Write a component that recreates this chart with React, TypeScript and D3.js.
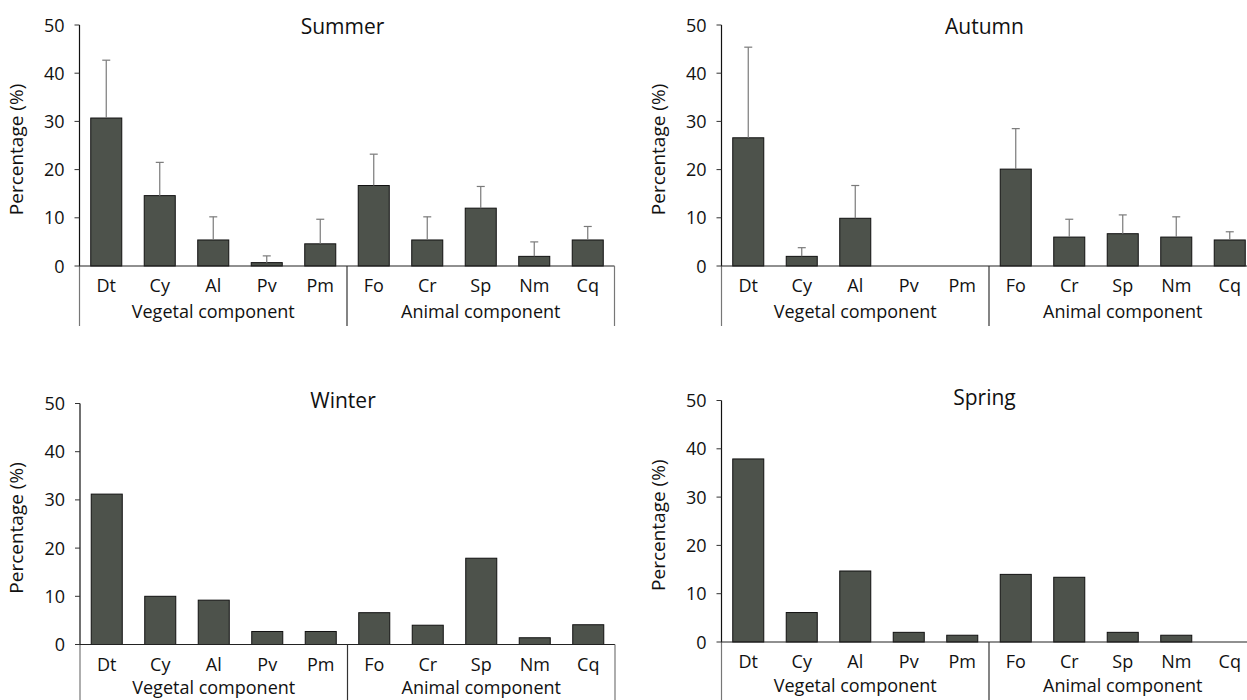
import React from "react";
import * as d3 from "d3";

const categories = ["Dt", "Cy", "Al", "Pv", "Pm", "Fo", "Cr", "Sp", "Nm", "Cq"];
const groupLabels = ["Vegetal component", "Animal component"];
const yTicks = [0, 10, 20, 30, 40, 50];

const summerValues = [30.7, 14.6, 5.4, 0.7, 4.6, 16.7, 5.4, 12.0, 2.0, 5.4];
const summerErrors = [42.7, 21.5, 10.2, 2.1, 9.7, 23.2, 10.2, 16.5, 5.0, 8.2];
const autumnValues = [26.6, 2.0, 9.9, 0, 0, 20.1, 6.0, 6.7, 6.0, 5.4];
const autumnErrors = [45.4, 3.8, 16.7, 0, 0, 28.5, 9.7, 10.6, 10.2, 7.1];
const winterValues = [31.2, 10.0, 9.2, 2.7, 2.7, 6.6, 4.0, 17.9, 1.4, 4.1];
const springValues = [37.9, 6.1, 14.7, 2.0, 1.4, 14.0, 13.4, 2.0, 1.4, 0];

type Panel = {
  title: string;
  values: number[];
  errors: number[] | null;
  axisX: number;
  yTop: number;
  yBottom: number;
  titleY: number;
  groupDy: number;
};

const panels: Panel[] = [
  { title: "Summer", values: summerValues, errors: summerErrors, axisX: 79.5, yTop: 25, yBottom: 266, titleY: 34, groupDy: 52 },
  { title: "Autumn", values: autumnValues, errors: autumnErrors, axisX: 721.5, yTop: 25, yBottom: 266, titleY: 34, groupDy: 52 },
  { title: "Winter", values: winterValues, errors: null, axisX: 80, yTop: 403.5, yBottom: 644.5, titleY: 408, groupDy: 49 },
  { title: "Spring", values: springValues, errors: null, axisX: 721.5, yTop: 400.5, yBottom: 642, titleY: 405, groupDy: 50 },
];

const FONT = "'Open Sans', sans-serif";
const PLOT_W = 535;
const BAR_FILL = "#4d524b";
const TXT = "#111";

function ChartPanel({ p }: { p: Panel }) {
  const x = d3.scaleBand<string>().domain(categories).range([p.axisX, p.axisX + PLOT_W]).paddingInner(0.42).paddingOuter(0.21);
  const y = d3.scaleLinear().domain([0, 50]).range([p.yBottom, p.yTop]);
  const y0 = y(0);
  const step = x.step();
  const sepX = p.axisX + step * 5;
  const endX = p.axisX + PLOT_W;
  const lineBottom = y0 + 60;
  return (
    <g>
      <text x={p.axisX + 263} y={p.titleY} textAnchor="middle" fontSize={21} fontFamily={FONT} fill={TXT}>{p.title}</text>
      <text transform={`translate(${p.axisX - 57},${(p.yTop + p.yBottom) / 2 + 4}) rotate(-90)`} textAnchor="middle" fontSize={19} fontFamily={FONT} fill={TXT}>Percentage (%)</text>
      {p.values.map((v, i) => {
        const c = categories[i];
        if (v <= 0) return null;
        const bx = x(c)!;
        return (
          <rect key={c} x={bx} y={y(v)} width={x.bandwidth()} height={y0 - y(v)} fill={BAR_FILL} stroke="#111" strokeWidth={1} />
        );
      })}
      {p.errors && p.errors.map((e, i) => {
        const v = p.values[i];
        if (e <= v) return null;
        const cx = x(categories[i])! + x.bandwidth() / 2;
        return (
          <g key={"e" + i} stroke="#7a7a7a" strokeWidth={1.2}>
            <line x1={cx} x2={cx} y1={y(v)} y2={y(e)} />
            <line x1={cx - 4} x2={cx + 4} y1={y(e)} y2={y(e)} />
          </g>
        );
      })}
      <line x1={p.axisX} x2={p.axisX} y1={p.yTop} y2={y0} stroke="#111" strokeWidth={1.2} />
      <line x1={p.axisX} x2={p.axisX} y1={y0} y2={lineBottom} stroke="#777" strokeWidth={1.2} />
      {yTicks.map((t) => (
        <g key={t}>
          <line x1={p.axisX - 5} x2={p.axisX} y1={y(t)} y2={y(t)} stroke="#333" strokeWidth={1} />
          <text x={p.axisX - 15} y={y(t) + 6.5} textAnchor="end" fontSize={18} fontFamily={FONT} fill={TXT}>{t}</text>
        </g>
      ))}
      <line x1={p.axisX} x2={endX} y1={y0} y2={y0} stroke="#222" strokeWidth={1.2} />
      <line x1={sepX} x2={sepX} y1={y0} y2={lineBottom} stroke="#333" strokeWidth={1.2} />
      <line x1={endX} x2={endX} y1={y0} y2={lineBottom} stroke="#777" strokeWidth={1.2} />
      {categories.map((c) => (
        <text key={c} x={x(c)! + x.bandwidth() / 2} y={y0 + 26} textAnchor="middle" fontSize={18} fontFamily={FONT} fill={TXT}>{c}</text>
      ))}
      <text x={(p.axisX + sepX) / 2} y={y0 + p.groupDy} textAnchor="middle" fontSize={18} fontFamily={FONT} fill={TXT}>{groupLabels[0]}</text>
      <text x={(sepX + endX) / 2} y={y0 + p.groupDy} textAnchor="middle" fontSize={18} fontFamily={FONT} fill={TXT}>{groupLabels[1]}</text>
    </g>
  );
}

export default function App() {
  return (
    <svg width={1247} height={700} style={{ position: "absolute", left: 0, top: 0, background: "#fff" }}>
      <rect x={0} y={0} width={1247} height={700} fill="#fff" />
      {panels.map((p) => (
        <ChartPanel key={p.title} p={p} />
      ))}
    </svg>
  );
}
